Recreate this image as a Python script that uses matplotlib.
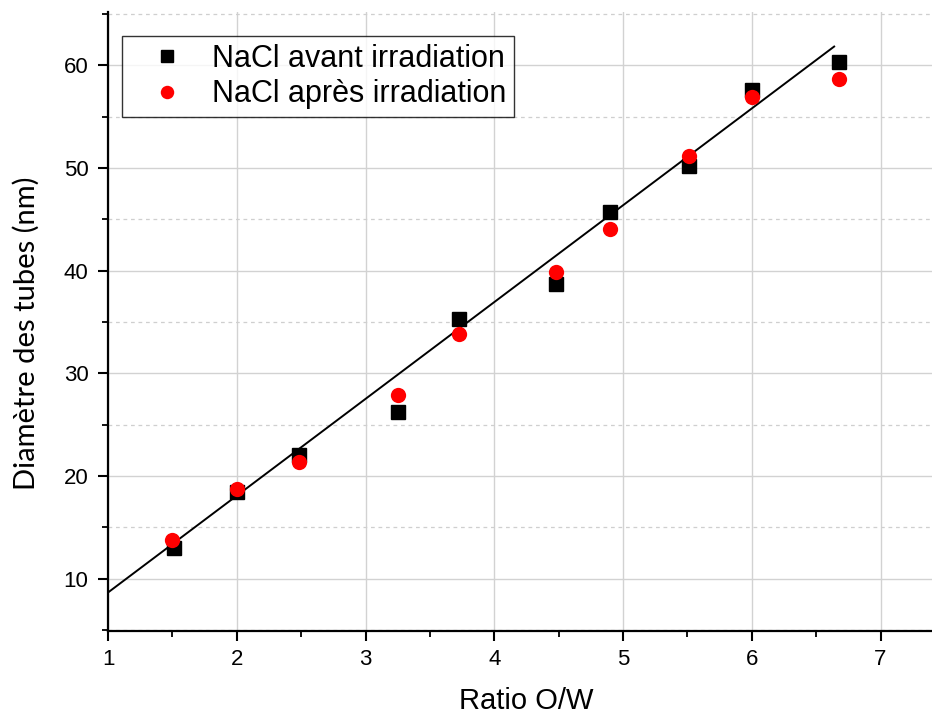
import matplotlib
matplotlib.use("Agg")
import matplotlib.pyplot as plt
import numpy as np
from matplotlib.ticker import MultipleLocator

plt.rcParams['font.family'] = ['Liberation Sans', 'DejaVu Sans']
plt.rcParams['xtick.labelsize'] = 16
plt.rcParams['ytick.labelsize'] = 16

# Measured tube diameters versus oil/water ratio
ratio_avant = [1.51, 2.00, 2.48, 3.25, 3.73, 4.48, 4.90, 5.51, 6.00, 6.68]
diam_avant = [13.0, 18.4, 22.0, 26.2, 35.3, 38.7, 45.7, 50.2, 57.6, 60.3]

ratio_apres = [1.50, 2.00, 2.48, 3.25, 3.73, 4.48, 4.90, 5.51, 6.00, 6.68]
diam_apres = [13.8, 18.7, 21.4, 27.9, 33.8, 39.9, 44.1, 51.2, 56.9, 58.7]

# Linear fit parameters
fit_slope = 9.43
fit_intercept = -0.78
fit_range = [1.0, 6.64]

label_avant = "NaCl avant irradiation"
label_apres = "NaCl après irradiation"

fig = plt.figure(figsize=(9.32, 7.21), dpi=100)
ax = fig.add_axes([108 / 932, 1 - 631 / 721, 1 - 108 / 932, (631 - 12) / 721])

ax.set_xlim(1, 7.4)
ax.set_ylim(4.9, 65.2)

ax.xaxis.set_major_locator(MultipleLocator(1))
ax.xaxis.set_minor_locator(MultipleLocator(0.5))
ax.yaxis.set_major_locator(MultipleLocator(10))
ax.yaxis.set_minor_locator(MultipleLocator(5))

ax.grid(which='major', color='#d2d2d2', linewidth=1.0, linestyle='-')
ax.grid(which='minor', axis='y', color='#cfcfcf', linewidth=0.9, linestyle=(0, (3, 3)))
ax.set_axisbelow(True)

for s in ['top', 'right']:
    ax.spines[s].set_visible(False)
for s in ['left', 'bottom']:
    ax.spines[s].set_linewidth(1.6)

ax.tick_params(which='major', direction='out', length=7, width=1.5,
               labelsize=16, pad=7)
ax.tick_params(which='minor', direction='out', length=4.5, width=1.3)
ax.tick_params(axis='x', which='major', pad=6, labelsize=16)

xf = np.array(fit_range)
ax.plot(xf, fit_intercept + fit_slope * xf, color='black', linewidth=1.4, zorder=2)

ax.plot(ratio_avant, diam_avant, linestyle='none', marker='s', markersize=10.5,
        color='black', label=label_avant, zorder=3)
ax.plot(ratio_apres, diam_apres, linestyle='none', marker='o', markersize=11,
        color='#ff0000', markeredgewidth=0, label=label_apres, zorder=4)

ax.set_xlabel("Ratio O/W", fontsize=21)
ax.xaxis.set_label_coords(0.508, -0.091)
ax.set_ylabel("Diamètre des tubes (nm)", fontsize=21,
              family=['Lato', 'DejaVu Sans'])
ax.yaxis.set_label_coords(-0.083, 0.481)

leg = ax.legend(loc='upper left', bbox_to_anchor=(0.017, 0.961), fontsize=22,
                frameon=True, fancybox=False, edgecolor='black',
                handlelength=2.45, handletextpad=0.25, borderpad=0.25,
                labelspacing=0.18, borderaxespad=0, markerscale=0.88)
leg.get_frame().set_linewidth(1.0)

fig.savefig("out.png", dpi=100)
